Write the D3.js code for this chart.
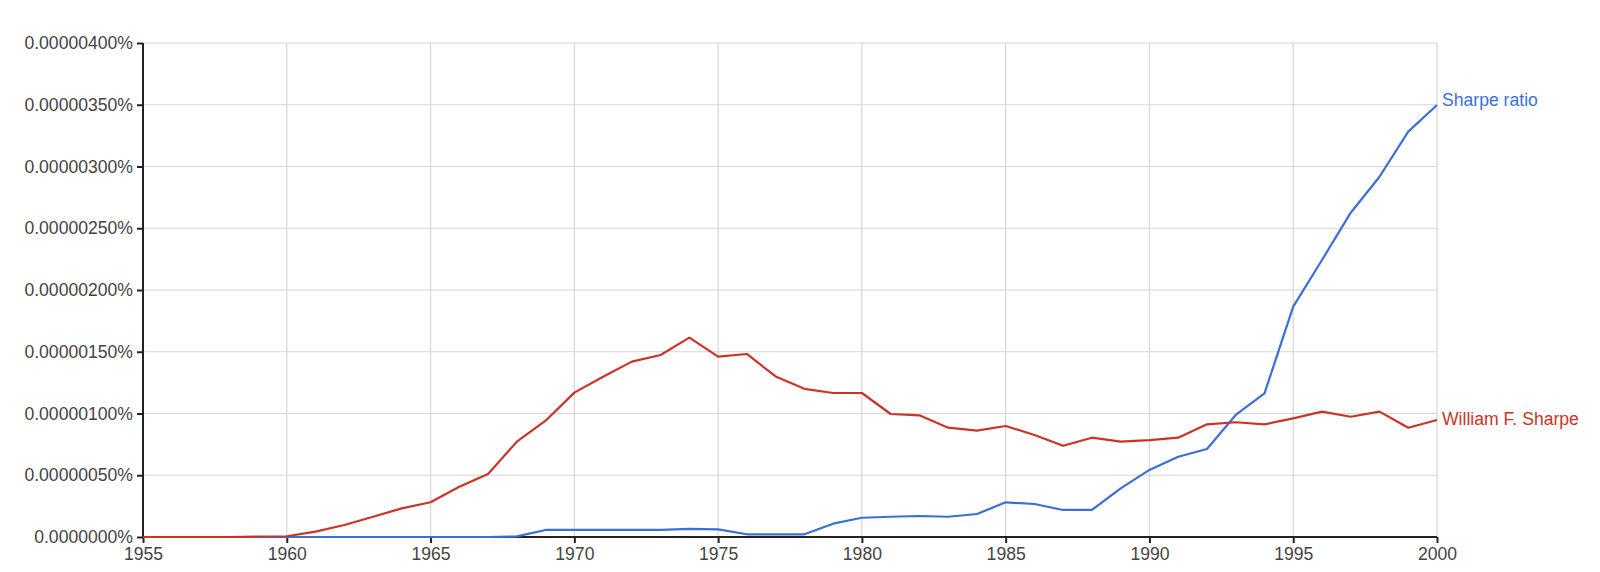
<!DOCTYPE html>
<html>
<head>
<meta charset="utf-8">
<script src="https://cdn.jsdelivr.net/npm/d3@7"></script>
<style>
  html, body { margin: 0; padding: 0; background: #fff; }
  svg { display: block; font-family: Arial, "Liberation Sans", sans-serif; }
</style>
</head>
<body>
<svg id="chart" width="1600" height="572"></svg>
<script>
// ---- data ----
const years = d3.range(1955, 2001);
const sharpeRatio = [
  0, 0, 0, 0, 0, 0, 0, 0, 0, 0,            // 1955-1964
  0, 0, 0, 0.005e-6, 0.057e-6, 0.057e-6, 0.057e-6, 0.057e-6, 0.057e-6, 0.065e-6, // 1965-1974
  0.062e-6, 0.022e-6, 0.022e-6, 0.022e-6, 0.108e-6, 0.156e-6, 0.164e-6, 0.170e-6, 0.164e-6, 0.186e-6, // 1975-1984
  0.281e-6, 0.267e-6, 0.219e-6, 0.219e-6, 0.394e-6, 0.543e-6, 0.650e-6, 0.713e-6, 0.988e-6, 1.163e-6, // 1985-1994
  1.865e-6, 2.243e-6, 2.626e-6, 2.917e-6, 3.282e-6, 3.498e-6  // 1995-2000
];
const williamFSharpe = [
  0, 0, 0, 0, 0.004e-6, 0.006e-6, 0.043e-6, 0.097e-6, 0.164e-6, 0.232e-6, // 1955-1964
  0.281e-6, 0.407e-6, 0.510e-6, 0.772e-6, 0.942e-6, 1.169e-6, 1.298e-6, 1.420e-6, 1.474e-6, 1.614e-6, // 1965-1974
  1.460e-6, 1.482e-6, 1.300e-6, 1.200e-6, 1.166e-6, 1.166e-6, 0.996e-6, 0.985e-6, 0.885e-6, 0.861e-6, // 1975-1984
  0.899e-6, 0.826e-6, 0.739e-6, 0.804e-6, 0.772e-6, 0.785e-6, 0.804e-6, 0.912e-6, 0.929e-6, 0.912e-6, // 1985-1994
  0.961e-6, 1.015e-6, 0.974e-6, 1.015e-6, 0.885e-6, 0.947e-6  // 1995-2000
];
const seriesNames = ["Sharpe ratio", "William F. Sharpe"];
const seriesColors = ["#3b6fd8", "#cc3327"];
const yTickValues = [0, 0.5e-6, 1.0e-6, 1.5e-6, 2.0e-6, 2.5e-6, 3.0e-6, 3.5e-6, 4.0e-6];
const yTickLabels = ["0.0000000%", "0.00000050%", "0.00000100%", "0.00000150%", "0.00000200%",
                     "0.00000250%", "0.00000300%", "0.00000350%", "0.00000400%"];
const xTickValues = [1955, 1960, 1965, 1970, 1975, 1980, 1985, 1990, 1995, 2000];

// ---- layout ----
const svg = d3.select("#chart");
const mLeft = 143, mRight = 1437, mTop = 43, mBottom = 537;
const fs = "17.6px";

const x = d3.scaleLinear().domain([1955, 2000]).range([mLeft, mRight]);
const y = d3.scaleLinear().domain([0, 4.0e-6]).range([mBottom, mTop]);

// grid
const grid = svg.append("g");
grid.selectAll("line.h").data(yTickValues.slice(1)).enter().append("line")
  .attr("x1", mLeft).attr("x2", mRight)
  .attr("y1", d => y(d)).attr("y2", d => y(d))
  .attr("stroke", "#d6d6d6").attr("stroke-width", 1.2);
grid.selectAll("line.v").data(xTickValues.slice(1)).enter().append("line")
  .attr("x1", d => x(d)).attr("x2", d => x(d))
  .attr("y1", mTop).attr("y2", mBottom)
  .attr("stroke", "#d6d6d6").attr("stroke-width", 1.2);

// axes
const yAxis = d3.axisLeft(y).tickValues(yTickValues)
  .tickFormat((d, i) => yTickLabels[i]).tickSize(6).tickPadding(4);
const gy = svg.append("g").attr("transform", `translate(${mLeft},0)`).call(yAxis);
gy.select(".domain").attr("stroke", "#222").attr("stroke-width", 2).attr("d", `M0,${mTop}V${mBottom}`);
gy.selectAll(".tick line").attr("stroke", "#222").attr("stroke-width", 2);
gy.selectAll(".tick text").attr("fill", "#444").style("font-size", fs);

const xAxis = d3.axisBottom(x).tickValues(xTickValues).tickFormat(d3.format("d")).tickSize(6).tickPadding(5);
const gx = svg.append("g").attr("transform", `translate(0,${mBottom})`).call(xAxis);
gx.select(".domain").attr("stroke", "#222").attr("stroke-width", 2).attr("d", `M${mLeft},0H${mRight}`);
gx.selectAll(".tick line").attr("stroke", "#222").attr("stroke-width", 2);
gx.selectAll(".tick text").attr("fill", "#444").style("font-size", fs);

// lines
const seriesData = [sharpeRatio, williamFSharpe];
const line = d3.line().x((d, i) => x(years[i])).y(d => y(d));
seriesData.forEach((s, k) => {
  svg.append("path").datum(s)
    .attr("fill", "none")
    .attr("stroke", seriesColors[k])
    .attr("stroke-width", 2.2)
    .attr("stroke-linejoin", "round")
    .attr("d", line);
  svg.append("text")
    .attr("x", x(2000) + 5)
    .attr("y", y(s[s.length - 1]))
    .attr("dy", k === 0 ? "0.05em" : "0.3em")
    .attr("fill", seriesColors[k])
    .style("font-size", fs)
    .text(seriesNames[k]);
});
</script>
</body>
</html>
